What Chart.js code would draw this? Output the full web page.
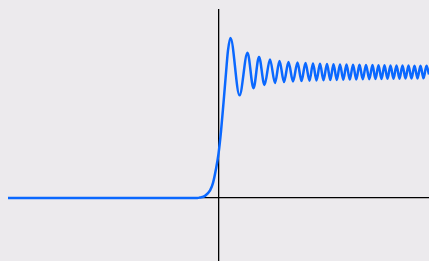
<!DOCTYPE html>
<html>
<head>
<meta charset="utf-8">
<script src="https://cdn.jsdelivr.net/npm/chart.js@4/dist/chart.umd.min.js"></script>
<style>
  html, body { margin: 0; padding: 0; background: #eceaed; }
  canvas { display: block; }
</style>
</head>
<body>
<canvas id="myChart" width="429" height="261"></canvas>
<script>
// flat start, steep rise, then a decaying oscillation around 1
const xValues = [
  -10, -1, -0.88, -0.64, -0.4, -0.26, -0.12, 0, 0.12, 0.24, 0.36, 0.45,
  0.57, 0.998, 1.378, 1.663, 1.924, 2.185, 2.447, 2.684, 2.898, 3.112,
  3.325, 3.539, 3.753, 3.943, 4.133, 4.323, 4.489, 4.656, 4.822, 4.988,
  5.154, 5.311, 5.463, 5.62, 5.772, 5.929, 6.081, 6.238, 6.39, 6.546,
  6.698, 6.855, 7.007, 7.164, 7.316, 7.458, 7.601, 7.743, 7.886, 8.029,
  8.171, 8.314, 8.456, 8.599, 8.741, 8.884, 9.026, 9.169, 9.311, 9.454,
  9.596, 9.739, 9.881, 10,
];
const yValues = [
  0, 0, 0.004, 0.017, 0.06, 0.12, 0.23, 0.35, 0.53, 0.76, 1.0, 1.17,
  1.27, 0.815, 1.152, 0.872, 1.12, 0.897, 1.1, 0.913, 1.087, 0.921,
  1.079, 0.925, 1.075, 0.929, 1.071, 0.93, 1.067, 0.933, 1.066, 0.934,
  1.064, 0.936, 1.062, 0.937, 1.06, 0.939, 1.059, 0.94, 1.058, 0.941,
  1.057, 0.942, 1.056, 0.943, 1.055, 0.944, 1.054, 0.945, 1.053, 0.946,
  1.052, 0.947, 1.052, 0.947, 1.051, 0.948, 1.051, 0.948, 1.05, 0.949,
  1.05, 0.95, 1.049, 0.98,
];
const xTicks = [-10, 0, 10];
const yTicks = [-0.5, 0, 0.5, 1, 1.5];

const points = xValues.map((x, i) => ({ x: x, y: yValues[i] }));

// only the zero lines are drawn, as axes
const zeroLine = (ctx) => (ctx.tick && ctx.tick.value === 0 ? "#000000" : "rgba(0,0,0,0)");

const myChart = new Chart("myChart", {
  type: "line",
  data: {
    datasets: [
      {
        data: points,
        borderColor: "#0a68ff",
        borderWidth: 2.5,
        pointRadius: 0,
        fill: false,
        cubicInterpolationMode: "monotone",
      },
    ],
  },
  options: {
    responsive: false,
    animation: false,
    layout: { padding: { left: 8, top: 9, right: 0, bottom: 0 } },
    plugins: {
      legend: { display: false },
      tooltip: { enabled: false },
    },
    scales: {
      x: {
        type: "linear",
        min: xTicks[0],
        max: xTicks[xTicks.length - 1],
        afterBuildTicks: (axis) => { axis.ticks = xTicks.map((v) => ({ value: v })); },
        ticks: { display: false },
        border: { display: false },
        grid: { color: zeroLine, lineWidth: 1.3, drawTicks: false },
      },
      y: {
        type: "linear",
        min: yTicks[0],
        max: yTicks[yTicks.length - 1],
        afterBuildTicks: (axis) => { axis.ticks = yTicks.map((v) => ({ value: v })); },
        ticks: { display: false },
        border: { display: false },
        grid: { color: zeroLine, lineWidth: 1.3, drawTicks: false },
      },
    },
  },
});
</script>
</body>
</html>
